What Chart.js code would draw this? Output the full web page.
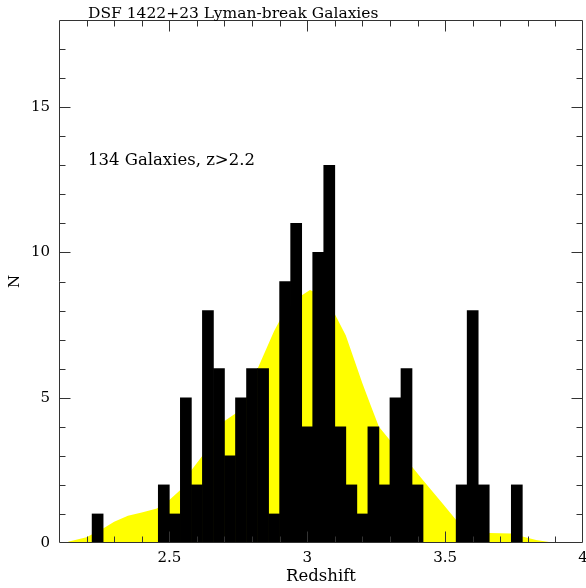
<!DOCTYPE html>
<html>
<head>
<meta charset="utf-8">
<script src="https://cdn.jsdelivr.net/npm/chart.js@4/dist/chart.umd.min.js"></script>
<style>
  html, body { margin: 0; padding: 0; background: #fff; }
  #wrap { width: 586px; height: 588px; }
</style>
</head>
<body>
<div id="wrap"><canvas id="redshift-chart" width="586" height="588"></canvas></div>
<script>
// histogram bins (0.04 wide), centre redshift of each bin
const binCenters = [
  2.24, 2.28, 2.32, 2.36, 2.40, 2.44, 2.48, 2.52, 2.56, 2.60,
  2.64, 2.68, 2.72, 2.76, 2.80, 2.84, 2.88, 2.92, 2.96, 3.00,
  3.04, 3.08, 3.12, 3.16, 3.20, 3.24, 3.28, 3.32, 3.36, 3.40,
  3.44, 3.48, 3.52, 3.56, 3.60, 3.64, 3.68, 3.72, 3.76
];
const galaxyCounts = [
  1, 0, 0, 0, 0, 0, 2, 1, 5, 2,
  8, 6, 3, 5, 6, 6, 1, 9, 11, 4,
  10, 13, 4, 2, 1, 4, 2, 5, 6, 2,
  0, 0, 0, 2, 8, 2, 0, 0, 2
];

// smoothed selection function (yellow)
const curveRedshift = [
  2.125, 2.136, 2.20, 2.26, 2.30, 2.35, 2.40, 2.455, 2.50, 2.54,
  2.58, 2.62, 2.70, 2.74, 2.78, 2.82, 2.88, 2.90, 2.96, 3.01,
  3.06, 3.10, 3.14, 3.20, 3.23, 3.26, 3.30, 3.38, 3.42, 3.49,
  3.54, 3.61, 3.66, 3.74, 3.78, 3.83, 3.90
];
const curveDensity = [
  0, 0.05, 0.2, 0.5, 0.73, 0.94, 1.05, 1.19, 1.48, 1.82,
  2.5, 3.0, 4.2, 4.46, 5.0, 6.0, 7.3, 7.65, 8.4, 8.71,
  8.5, 7.88, 7.14, 5.5, 4.74, 4.0, 3.54, 2.62, 2.16, 1.37,
  0.79, 0.45, 0.34, 0.33, 0.22, 0.1, 0
];

const xTickValues = [2.5, 3, 3.5, 4];
const yTickValues = [0, 5, 10, 15];
const titleText = 'DSF 1422+23 Lyman-break Galaxies';
const noteText = '134 Galaxies, z>2.2';

const FONT_FAMILY = '"DejaVu Serif", serif';
const FONT_SIZE = 15;

// box frame with inward ticks on all four sides
const frameTicks = {
  id: 'frameTicks',
  afterDraw(chart) {
    const { ctx, chartArea: a, scales: { x, y } } = chart;
    const L = Math.round(a.left) + 0.5;
    const R = Math.round(a.right) - 0.5;
    const T = Math.round(a.top) + 0.5;
    const B = Math.round(a.bottom) - 0.5;

    ctx.save();
    ctx.strokeStyle = '#333';
    ctx.lineWidth = 1;
    ctx.beginPath();
    ctx.rect(L, T, R - L, B - T);

    for (let i = 22; i < 40; i++) {
      const px = Math.round(x.getPixelForValue(i / 10)) + 0.5;
      const len = i % 5 === 0 ? 11 : 6;
      ctx.moveTo(px, B); ctx.lineTo(px, B - len);
      ctx.moveTo(px, T); ctx.lineTo(px, T + len);
    }
    for (let v = 1; v < 18; v++) {
      const py = Math.round(y.getPixelForValue(v)) + 0.5;
      const len = v % 5 === 0 ? 11 : 6;
      ctx.moveTo(L, py); ctx.lineTo(L + len, py);
      ctx.moveTo(R, py); ctx.lineTo(R - len, py);
    }
    ctx.stroke();

    ctx.fillStyle = '#000';
    ctx.textAlign = 'left';
    ctx.textBaseline = 'alphabetic';
    ctx.font = `15.5px ${FONT_FAMILY}`;
    ctx.fillText(titleText, 88, 18);
    ctx.font = `16.5px ${FONT_FAMILY}`;
    ctx.fillText(noteText, 88, 165);
    ctx.restore();
  }
};

new Chart(document.getElementById('redshift-chart'), {
  type: 'bar',
  data: {
    datasets: [
      {
        type: 'bar',
        data: binCenters.map((z, i) => ({ x: z, y: galaxyCounts[i] })),
        backgroundColor: '#000',
        borderWidth: 0,
        barPercentage: 1,
        categoryPercentage: 1,
        order: 1
      },
      {
        type: 'line',
        data: curveRedshift.map((z, i) => ({ x: z, y: curveDensity[i] })),
        backgroundColor: '#ffff00',
        borderWidth: 0,
        pointRadius: 0,
        tension: 0,
        fill: 'origin',
        order: 2
      }
    ]
  },
  options: {
    responsive: false,
    animation: false,
    devicePixelRatio: 1,
    layout: { padding: { top: 20, right: 3, left: 0, bottom: 0 } },
    plugins: {
      legend: { display: false },
      tooltip: { enabled: false }
    },
    scales: {
      x: {
        type: 'linear',
        min: 2.1,
        max: 4,
        offset: false,
        grid: { display: false, drawTicks: false },
        border: { display: false },
        afterBuildTicks: (scale) => { scale.ticks = xTickValues.map((value) => ({ value })); },
        afterFit: (scale) => {
          scale.height = 45;
          scale.paddingLeft = 0;
          scale.paddingRight = 0;
        },
        ticks: {
          padding: 6,
          maxRotation: 0,
          color: '#000',
          font: { family: FONT_FAMILY, size: FONT_SIZE },
          callback: (value) => String(value)
        },
        title: {
          display: true,
          text: 'Redshift',
          color: '#000',
          padding: { top: 0, bottom: 1 },
          font: { family: FONT_FAMILY, size: 16.5 }
        }
      },
      y: {
        min: 0,
        max: 18,
        grid: { display: false, drawTicks: false },
        border: { display: false },
        afterBuildTicks: (scale) => { scale.ticks = yTickValues.map((value) => ({ value })); },
        afterFit: (scale) => {
          scale.width = 59;
          scale.paddingTop = 0;
          scale.paddingBottom = 0;
        },
        ticks: {
          padding: 9,
          color: '#000',
          font: { family: FONT_FAMILY, size: FONT_SIZE },
          callback: (value) => String(value)
        },
        title: {
          display: true,
          text: 'N',
          color: '#000',
          padding: { top: 6, bottom: 0 },
          font: { family: FONT_FAMILY, size: FONT_SIZE }
        }
      }
    }
  },
  plugins: [frameTicks]
});
</script>
</body>
</html>
